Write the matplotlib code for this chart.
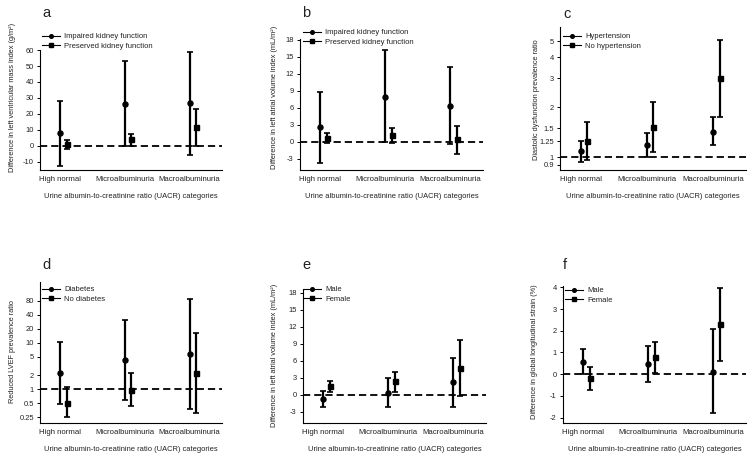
import matplotlib

matplotlib.use("Agg")
import matplotlib.pyplot as plt
from matplotlib.lines import Line2D

plt.rcParams["font.family"] = ["Liberation Sans", "DejaVu Sans"]

FIG_W, FIG_H = 754, 461
TEXT_COLOR = "#222222"

categories = ["High normal", "Microalbuminuria", "Macroalbuminuria"]
x_label = "Urine albumin-to-creatinine ratio (UACR) categories"

# a: left ventricular mass index
a_labels = ["Impaired kidney function", "Preserved kidney function"]
a_s1_est = [8.2, 26.3, 26.7]
a_s1_lo = [-12.2, 0.0, -5.9]
a_s1_hi = [28.4, 53.3, 59.0]
a_s2_est = [1.0, 4.2, 11.8]
a_s2_lo = [-1.7, 0.3, 0.3]
a_s2_hi = [3.6, 7.8, 23.2]
a_yticks = [-10, 0, 10, 20, 30, 40, 50, 60]

# b: left atrial volume index, kidney function
b_labels = ["Impaired kidney function", "Preserved kidney function"]
b_s1_est = [2.5, 7.9, 6.2]
b_s1_lo = [-3.7, 0.0, -0.4]
b_s1_hi = [8.7, 16.1, 13.1]
b_s2_est = [0.7, 1.1, 0.4]
b_s2_lo = [-0.3, -0.3, -2.1]
b_s2_hi = [1.6, 2.4, 2.7]
b_yticks = [-3, 0, 3, 6, 9, 12, 15, 18]

# c: diastolic dysfunction prevalence ratio
c_labels = ["Hypertension", "No hypertension"]
c_s1_est = [1.09, 1.19, 1.43]
c_s1_lo = [0.93, 1.0, 1.18]
c_s1_hi = [1.26, 1.40, 1.74]
c_s2_est = [1.25, 1.525, 3.0]
c_s2_lo = [0.964, 1.07, 1.74]
c_s2_hi = [1.63, 2.16, 5.09]
c_yticks = [0.9, 1, 1.25, 1.5, 2, 3, 4, 5]
c_yticklabels = ["0.9", "1", "1.25", "1.5", "2", "3", "4", "5"]

# d: reduced LVEF prevalence ratio
d_labels = ["Diabetes", "No diabetes"]
d_s1_est = [2.22, 4.33, 5.72]
d_s1_lo = [0.49, 0.59, 0.38]
d_s1_hi = [10.4, 31.1, 86.8]
d_s2_est = [0.52, 0.98, 2.26]
d_s2_lo = [0.25, 0.43, 0.31]
d_s2_hi = [1.10, 2.19, 16.5]
d_yticks = [0.25, 0.5, 1, 2, 5, 10, 20, 40, 80]
d_yticklabels = ["0.25", "0.5", "1", "2", "5", "10", "20", "40", "80"]

# e: left atrial volume index, sex
e_labels = ["Male", "Female"]
e_s1_est = [-0.8, 0.3, 2.2]
e_s1_lo = [-2.2, -2.2, -2.1]
e_s1_hi = [0.6, 2.9, 6.4]
e_s2_est = [1.5, 2.4, 4.7]
e_s2_lo = [0.5, 0.5, -0.2]
e_s2_hi = [2.5, 4.0, 9.7]
e_yticks = [-3, 0, 3, 6, 9, 12, 15, 18]

# f: global longitudinal strain
f_labels = ["Male", "Female"]
f_s1_est = [0.55, 0.45, 0.12]
f_s1_lo = [0.0, -0.38, -1.8]
f_s1_hi = [1.14, 1.28, 2.06]
f_s2_est = [-0.2, 0.78, 2.32]
f_s2_lo = [-0.72, 0.06, 0.62]
f_s2_hi = [0.32, 1.46, 3.98]
f_yticks = [-2, -1, 0, 1, 2, 3, 4]


def fx(x):
    return x / FIG_W


def fy(y):
    return 1 - y / FIG_H


def draw_series(ax, xs, est, lo, hi, marker):
    yerr = [[e - l for e, l in zip(est, lo)], [h - e for e, h in zip(est, hi)]]
    ax.errorbar(xs, est, yerr=yerr, fmt=marker, color="black", ms=3.6,
                elinewidth=1.6, capsize=2.2, capthick=1.2, zorder=3)


def draw_panel(fig, spec):
    left, top, right, bottom = spec["box"]
    ax = fig.add_axes([fx(left), fy(bottom), fx(right - left), (bottom - top) / FIG_H])
    xs = list(range(len(categories)))
    xs2 = [x + 0.1 for x in xs]
    if spec.get("log"):
        ax.set_yscale("log")
    draw_series(ax, xs, spec["s1"][0], spec["s1"][1], spec["s1"][2], "o")
    draw_series(ax, xs2, spec["s2"][0], spec["s2"][1], spec["s2"][2], "s")
    ax.axhline(spec["ref"], color="black", lw=1.3, ls=(0, (4, 2.2)), zorder=2)

    ax.set_xlim(-0.31, 2.5)
    ax.set_ylim(*spec["ylim"])
    ax.set_xticks(xs)
    ax.set_xticklabels(categories)
    ax.set_yticks(spec["yticks"])
    ax.set_yticklabels(spec.get("yticklabels", [str(t) for t in spec["yticks"]]))
    ax.minorticks_off()
    ax.tick_params(axis="x", length=0, pad=4, labelsize=5.6, labelcolor=TEXT_COLOR)
    ax.tick_params(axis="y", length=2.5, width=0.7, pad=2, labelsize=5.4,
                   labelcolor=TEXT_COLOR)
    for side in ("top", "right"):
        ax.spines[side].set_visible(False)
    for side in ("left", "bottom"):
        ax.spines[side].set_linewidth(0.8)

    # y label centred at the given pixel position
    ylx, yly = spec["ylabel_pos"]
    fig.text(fx(ylx), fy(yly), spec["ylabel"], rotation=90, ha="center", va="center",
             fontsize=5.3, color=TEXT_COLOR)
    fig.text(fx((left + right) / 2), fy(spec["xlabel_y"]), x_label, ha="center",
             va="center", fontsize=5.4, color=TEXT_COLOR)
    tx, ty = spec["title_pos"]
    fig.text(fx(tx), fy(ty), spec["title"], ha="left", va="center", fontsize=10.5,
             color=TEXT_COLOR)

    handles = [
        Line2D([], [], color="black", lw=0.8, marker="o", ms=2.6),
        Line2D([], [], color="black", lw=0.8, marker="s", ms=2.6),
    ]
    lx, ly = spec["legend_pos"]
    ax.legend(handles, spec["labels"], loc="upper left", bbox_to_anchor=(fx(lx), fy(ly)),
              bbox_transform=fig.transFigure, frameon=False, fontsize=5.5,
              handlelength=2.3, handletextpad=0.6, labelspacing=0.25, borderpad=0,
              borderaxespad=0, labelcolor=TEXT_COLOR)
    return ax


panels = [
    dict(title="a", box=(40, 50, 222, 170), ylim=(-15, 60), yticks=a_yticks, ref=0,
         s1=(a_s1_est, a_s1_lo, a_s1_hi), s2=(a_s2_est, a_s2_lo, a_s2_hi), labels=a_labels,
         ylabel="Difference in left ventricular mass index (g/m²)", ylabel_pos=(13, 97),
         xlabel_y=196, title_pos=(42, 13), legend_pos=(42, 33)),
    dict(title="b", box=(300, 39, 483, 170), ylim=(-5, 18.1), yticks=b_yticks, ref=0,
         s1=(b_s1_est, b_s1_lo, b_s1_hi), s2=(b_s2_est, b_s2_lo, b_s2_hi), labels=b_labels,
         ylabel="Difference in left atrial volume index (mL/m²)", ylabel_pos=(275, 97),
         xlabel_y=197, title_pos=(302, 13), legend_pos=(303, 29)),
    dict(title="c", box=(560, 27, 746, 170), ylim=(0.838, 6.1), yticks=c_yticks,
         yticklabels=c_yticklabels, log=True, ref=1,
         s1=(c_s1_est, c_s1_lo, c_s1_hi), s2=(c_s2_est, c_s2_lo, c_s2_hi), labels=c_labels,
         ylabel="Diastolic dysfunction prevalence ratio", ylabel_pos=(537, 100),
         xlabel_y=197, title_pos=(563, 14), legend_pos=(563, 33)),
    dict(title="d", box=(40, 282, 222, 423), ylim=(0.19, 200), yticks=d_yticks,
         yticklabels=d_yticklabels, log=True, ref=1,
         s1=(d_s1_est, d_s1_lo, d_s1_hi), s2=(d_s2_est, d_s2_lo, d_s2_hi), labels=d_labels,
         ylabel="Reduced LVEF prevalence ratio", ylabel_pos=(13, 352),
         xlabel_y=449, title_pos=(42, 265), legend_pos=(42, 286)),
    dict(title="e", box=(303, 290, 486, 423), ylim=(-5, 18.5), yticks=e_yticks, ref=0,
         s1=(e_s1_est, e_s1_lo, e_s1_hi), s2=(e_s2_est, e_s2_lo, e_s2_hi), labels=e_labels,
         ylabel="Difference in left atrial volume index (mL/m²)", ylabel_pos=(275, 355),
         xlabel_y=449, title_pos=(302, 265), legend_pos=(303, 286)),
    dict(title="f", box=(563, 286, 746, 423), ylim=(-2.25, 4.06), yticks=f_yticks, ref=0,
         s1=(f_s1_est, f_s1_lo, f_s1_hi), s2=(f_s2_est, f_s2_lo, f_s2_hi), labels=f_labels,
         ylabel="Difference in global longitudinal strain (%)", ylabel_pos=(535, 352),
         xlabel_y=449, title_pos=(563, 265), legend_pos=(565, 287)),
]

fig = plt.figure(figsize=(FIG_W / 100, FIG_H / 100), dpi=100)
for spec in panels:
    draw_panel(fig, spec)

fig.savefig("out.png", dpi=100)
plt.close(fig)
